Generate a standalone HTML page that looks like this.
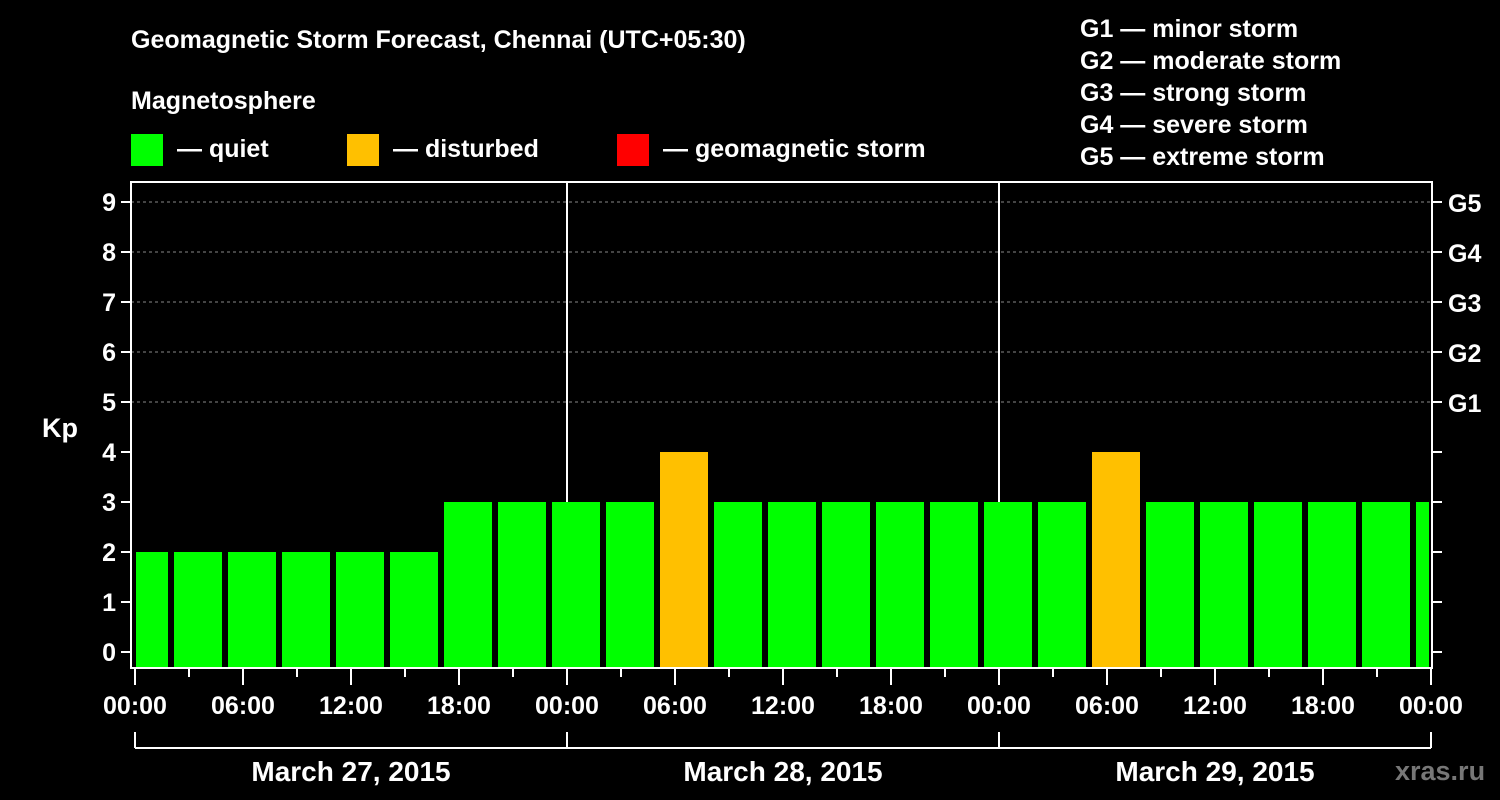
<!DOCTYPE html>
<html><head><meta charset="utf-8"><style>
html,body{margin:0;padding:0;background:#000;}
svg{display:block;font-family:"Liberation Sans",Arial,sans-serif;font-weight:bold;}
</style></head><body>
<svg id="chart" width="1500" height="800" viewBox="0 0 1500 800" xmlns="http://www.w3.org/2000/svg">
<rect width="1500" height="800" fill="#000"/>
<text x="131" y="48" fill="#fff" font-size="25">Geomagnetic Storm Forecast, Chennai (UTC+05:30)</text>
<text x="131" y="109" fill="#fff" font-size="25">Magnetosphere</text>
<g><rect x="131" y="134" width="32" height="32" fill="#00ff00"/><text x="177" y="157" fill="#fff" font-size="25">— quiet</text></g>
<g><rect x="347" y="134" width="32" height="32" fill="#ffc000"/><text x="393" y="157" fill="#fff" font-size="25">— disturbed</text></g>
<g><rect x="617" y="134" width="32" height="32" fill="#ff0000"/><text x="663" y="157" fill="#fff" font-size="25">— geomagnetic storm</text></g>
<g fill="#fff" font-size="25">
<text x="1080" y="37">G1 — minor storm</text>
<text x="1080" y="69">G2 — moderate storm</text>
<text x="1080" y="101">G3 — strong storm</text>
<text x="1080" y="133">G4 — severe storm</text>
<text x="1080" y="165">G5 — extreme storm</text>
</g>
<text x="42" y="437" fill="#fff" font-size="27">Kp</text>
<g id="grid"></g><g id="bars"></g><g id="axes"></g>
<text x="1395" y="780" fill="#777" font-size="27">xras.ru</text>
</svg>
<script>
const kpValues=[2,2,2,2,2,2,3,3,3,3,4,3,3,3,3,3,3,3,4,3,3,3,3,3,3];
const barStartHours=[-1,2,5,8,11,14,17,20,23,26,29,32,35,38,41,44,47,50,53,56,59,62,65,68,71];
const yTicks=[0,1,2,3,4,5,6,7,8,9];
const gLabels=["G1","G2","G3","G4","G5"];
const gLevels=[5,6,7,8,9];
const xTickLabels=["00:00","06:00","12:00","18:00","00:00","06:00","12:00","18:00","00:00","06:00","12:00","18:00","00:00"];
const dateLabels=["March 27, 2015","March 28, 2015","March 29, 2015"];
const NS="http://www.w3.org/2000/svg";
const L=131,R=1432,T=182,B=668;
const x=h=>135+h*18;
const y=v=>652-v*50;
function mk(tag,attrs,parent){const e=document.createElementNS(NS,tag);for(const k in attrs)e.setAttribute(k,attrs[k]);parent.appendChild(e);return e;}
const grid=document.getElementById('grid'),bars=document.getElementById('bars'),axes=document.getElementById('axes');
gLevels.forEach(v=>{const l=mk('line',{x1:L,x2:R,y1:y(v),y2:y(v),stroke:'#888','stroke-dasharray':'3,3','stroke-width':1},grid);

});
[1,2].forEach(d=>{const l=mk('line',{x1:x(d*24),x2:x(d*24),y1:T,y2:B,stroke:'#fff','stroke-width':2},grid);

});
kpValues.forEach((v,i)=>{const h=barStartHours[i];let x0=Math.max(x(h)+3,136),x1=Math.min(x(h+3)-3,R-3);
const c=v>=5?'#ff0000':(v>=4?'#ffc000':'#00ff00');
const r=mk('rect',{x:x0,y:y(v),width:x1-x0,height:B-y(v),fill:c},bars);

});
const fr=mk('rect',{x:L,y:T,width:R-L,height:B-T,fill:'none',stroke:'#fff','stroke-width':2},axes);


yTicks.forEach(v=>{mk('line',{x1:121,x2:L,y1:y(v),y2:y(v),stroke:'#fff','stroke-width':2},axes);
mk('line',{x1:R,x2:R+10,y1:y(v),y2:y(v),stroke:'#fff','stroke-width':2},axes);
const t=mk('text',{x:116,y:y(v)+9,fill:'#fff','font-size':25,'text-anchor':'end'},axes);t.textContent=v;

});
gLevels.forEach((v,i)=>{const t=mk('text',{x:1448,y:y(v)+10,fill:'#fff','font-size':25},axes);t.textContent=gLabels[i];

});
for(let h=0;h<=72;h+=3){const major=h%6===0;mk('line',{x1:x(h),x2:x(h),y1:B,y2:B+(major?17:9),stroke:'#fff','stroke-width':2},axes);}
xTickLabels.forEach((s,i)=>{const t=mk('text',{x:x(i*6),y:714,fill:'#fff','font-size':25,'text-anchor':'middle'},axes);t.textContent=s;

});
mk('line',{x1:x(0),x2:x(72),y1:748,y2:748,stroke:'#fff','stroke-width':2},axes);
for(let d=0;d<=3;d++)mk('line',{x1:x(d*24),x2:x(d*24),y1:732,y2:748,stroke:'#fff','stroke-width':2},axes);
dateLabels.forEach((s,i)=>{const t=mk('text',{x:x(i*24+12),y:781,fill:'#fff','font-size':28,'text-anchor':'middle'},axes);t.textContent=s;

});
</script>
</body></html>
